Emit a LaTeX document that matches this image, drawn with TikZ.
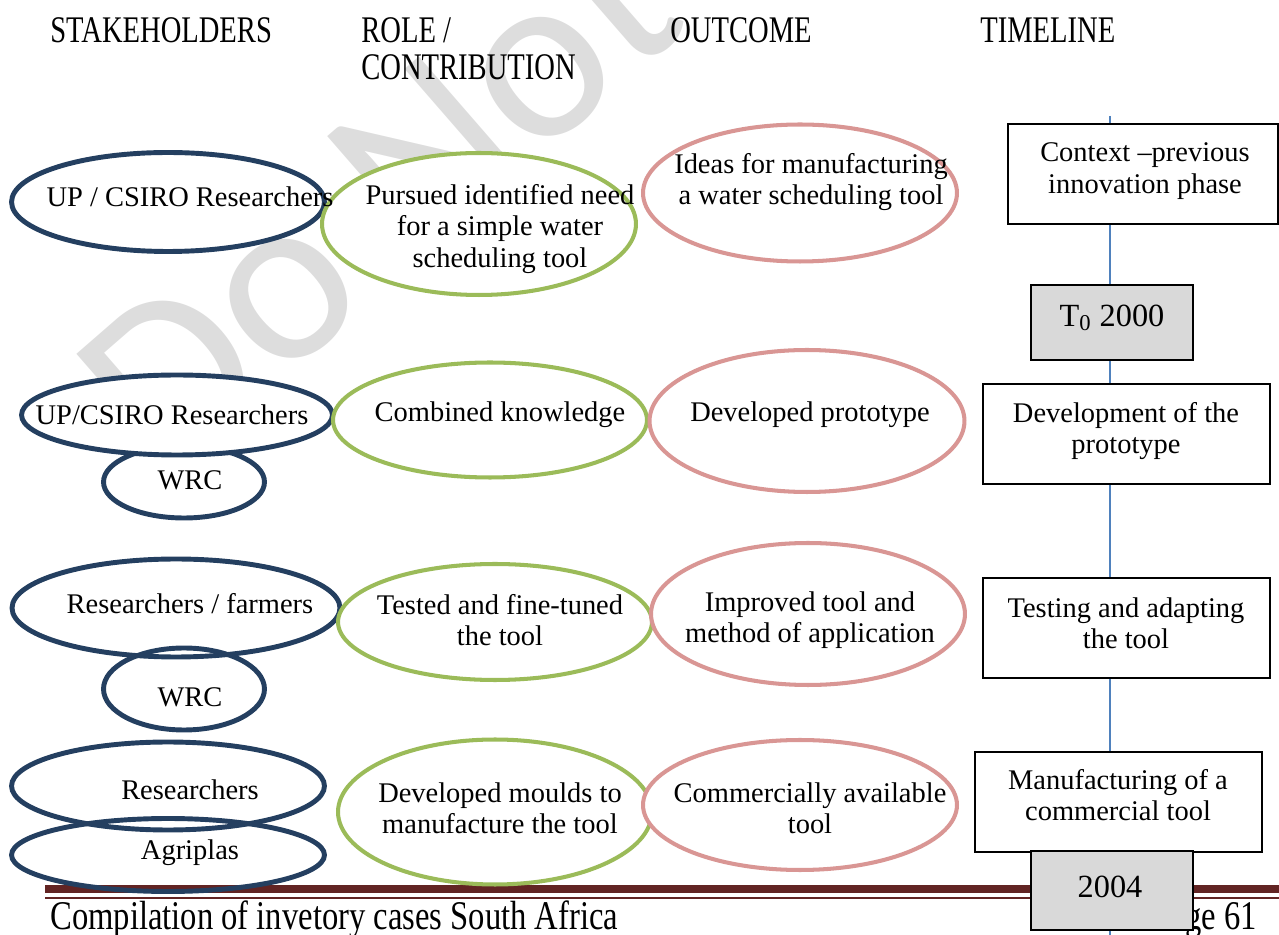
\documentclass[tikz,border=0pt]{standalone}
\usepackage{fontspec}
\setmainfont{Liberation Serif}
\newfontfamily\headfont[FakeStretch=0.76]{Liberation Serif}
\newfontfamily\footfont[FakeStretch=0.8]{Liberation Serif}
\newfontfamily\wmfont{Carlito}
\usetikzlibrary{shapes.geometric}

\definecolor{stakeblue}{HTML}{243F60}
\definecolor{rolegreen}{HTML}{9BBB59}
\definecolor{outpink}{HTML}{D99694}
\definecolor{yeargray}{HTML}{D9D9D9}
\definecolor{lineblue}{HTML}{4F81BD}
\definecolor{footred}{HTML}{622423}
\definecolor{wmgray}{HTML}{DDDDDD}

\tikzset{
  stake/.style={ellipse, draw=stakeblue, line width=2.8pt, inner sep=0pt},
  role/.style={ellipse, draw=rolegreen, line width=2.3pt, fill=white, inner sep=0pt},
  outcome/.style={ellipse, draw=outpink, line width=2.3pt, fill=white, inner sep=0pt},
  phase/.style={rectangle, draw=black, line width=1.1pt, fill=white, inner sep=0pt},
  yearbox/.style={phase, fill=yeargray},
  txt/.style={align=center, inner sep=0pt, font=\fontsize{16.2}{17.9}\selectfont},
  yeartxt/.style={inner sep=0pt, font=\fontsize{18.4}{18.4}\selectfont},
  head/.style={anchor=base west, inner sep=0pt, font=\headfont\fontsize{21.4}{21.4}\selectfont},
  foot/.style={inner sep=0pt, font=\footfont\fontsize{23.2}{23.2}\selectfont}
}

\begin{document}
\begin{tikzpicture}[x=0.02cm, y=-0.02cm]
  \useasboundingbox (0,0) rectangle (1279,935);

  % watermark behind everything
  \begin{scope}
    \clip (0,0) rectangle (1279,935);
    \node[rotate=41, anchor=base west, inner sep=0pt, text=wmgray,
          font=\wmfont\fontsize{138}{138}\selectfont] (wm) at (166,483) {Do Not};
  \end{scope}

  % column titles
  \node[head] (h1) at (50,43) {STAKEHOLDERS};
  \node[head] (h2) at (361,43) {ROLE /};
  \node[head] (h2b) at (361,80) {CONTRIBUTION};
  \node[head] (h3) at (670,43) {OUTCOME};
  \node[head] (h4) at (980,43) {TIMELINE};

  % time axis
  \coordinate (ttop) at (1110,116);
  \coordinate (tbot) at (1110,935);
  \draw[lineblue, line width=1.1pt] (ttop) -- (tbot);

  % page footer
  \coordinate (fl) at (45,889);
  \coordinate (fr) at (1279,889);
  \coordinate (gl) at (45,898);
  \coordinate (gr) at (1279,898);
  \draw[footred, line width=4.6pt] (fl) -- (fr);
  \draw[footred, line width=1.1pt] (gl) -- (gr);
  \node[foot, anchor=base west] (ftxt) at (50,929) {Compilation of invetory cases South Africa};
  \node[foot, anchor=base east] (fpage) at (1257,929) {Page 61};

  % row 1
  \node[stake, fill=white, minimum width=6.26cm, minimum height=1.98cm] (s1) at (168,202) {};
  \node[role, minimum width=6.28cm, minimum height=2.84cm] (r1) at (479,224) {};
  \node[outcome, minimum width=6.28cm, minimum height=2.74cm] (o1) at (800,193) {};
  \node[phase, minimum width=5.4cm, minimum height=2cm] (p1) at (1143,174) {};
  \node[yearbox, minimum width=3.24cm, minimum height=1.5cm] (y1) at (1112,322.5) {};

  % row 2
  \node[stake, fill=white, minimum width=3.22cm, minimum height=1.44cm] (s2b) at (184,482) {};
  \node[stake, fill=white, minimum width=6.22cm, minimum height=1.6cm] (s2) at (177,415) {};
  \node[role, minimum width=6.28cm, minimum height=2.3cm] (r2) at (490,420) {};
  \node[outcome, minimum width=6.3cm, minimum height=2.84cm] (o2) at (807,421) {};
  \node[phase, minimum width=5.74cm, minimum height=2cm] (p2) at (1126.5,434) {};

  % row 3
  \node[stake, minimum width=6.56cm, minimum height=1.96cm] (s3) at (176,608) {};
  \node[stake, minimum width=3.22cm, minimum height=1.64cm] (s3b) at (184,689) {};
  \node[role, minimum width=6.28cm, minimum height=2.32cm] (r3) at (495,622) {};
  \node[outcome, minimum width=6.28cm, minimum height=2.84cm] (o3) at (808,614) {};
  \node[phase, minimum width=5.74cm, minimum height=2cm] (p3) at (1126.5,628) {};

  % row 4
  \node[stake, minimum width=6.26cm, minimum height=1.76cm] (s4) at (168,786) {};
  \node[stake, minimum width=6.26cm, minimum height=1.46cm] (s4b) at (168,855) {};
  \node[role, minimum width=6.28cm, minimum height=2.9cm] (r4) at (495,812) {};
  \node[outcome, minimum width=6.28cm, minimum height=2.6cm] (o4) at (800,805) {};
  \node[phase, minimum width=5.74cm, minimum height=2cm] (p4) at (1118.5,802) {};
  \node[yearbox, minimum width=3.24cm, minimum height=1.58cm] (y2) at (1112,890.5) {};

  % labels
  \node[txt] (s1t) at (190,197) {UP / CSIRO Researchers};
  \node[txt] (r1t) at (500,229) {Pursued identified need\\for a simple water\\scheduling tool};
  \node[txt] (o1t) at (811,182) {Ideas for manufacturing\\a water scheduling tool};
  \node[txt] (p1t) at (1145,171) {Context –previous\\innovation phase};
  \node[yeartxt] (y1t) at (1112,318) {T\textsubscript{0} 2000};

  \node[txt] (s2t) at (172,415) {UP/CSIRO Researchers};
  \node[txt] (s2bt) at (190,480) {WRC};
  \node[txt] (r2t) at (500,415) {Combined knowledge};
  \node[txt] (o2t) at (810,415) {Developed prototype};
  \node[txt] (p2t) at (1126,431) {Development of the\\prototype};

  \node[txt] (s3t) at (190,604) {Researchers / farmers};
  \node[txt] (s3bt) at (190,697) {WRC};
  \node[txt] (r3t) at (500,620) {Tested and fine-tuned\\the tool};
  \node[txt] (o3t) at (810,620) {Improved tool and\\method of application};
  \node[txt] (p3t) at (1126,623) {Testing and adapting\\the tool};

  \node[txt] (s4t) at (190,790) {Researchers};
  \node[txt] (s4bt) at (190,853) {Agriplas};
  \node[txt] (r4t) at (500,808) {Developed moulds to\\manufacture the tool};
  \node[txt] (o4t) at (810,808) {Commercially available\\tool};
  \node[txt] (p4t) at (1118,795) {Manufacturing of a\\commercial tool};
  \node[yeartxt] (y2t) at (1110,887) {2004};
\end{tikzpicture}
\end{document}
